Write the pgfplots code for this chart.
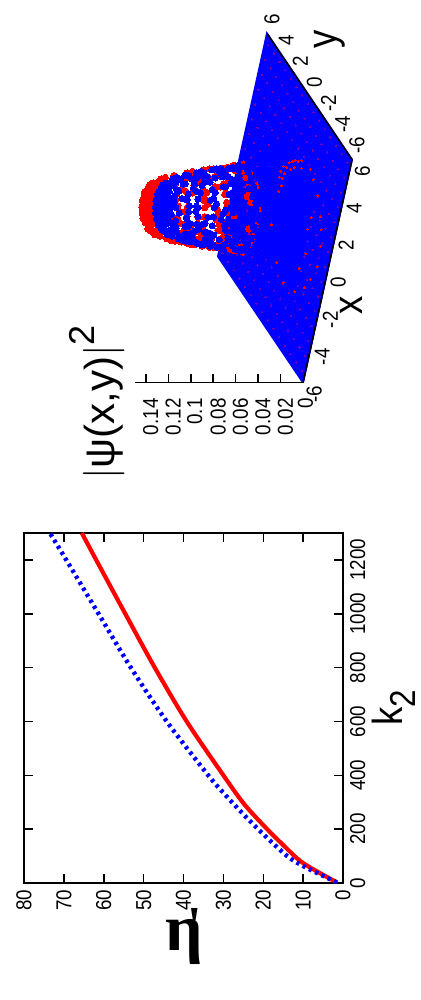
\documentclass[border=0pt]{standalone}
\usepackage{fontspec}
\setmainfont[FakeStretch=0.87]{Liberation Sans}
\newfontfamily\wideface{Liberation Sans}
\newfontfamily\etafont{Liberation Serif}
\usepackage{graphicx}
\usepackage{pgfplots}
\pgfplotsset{compat=1.18}
\definecolor{gpred}{RGB}{255,0,0}
\definecolor{gpblue}{RGB}{0,0,255}
\definecolor{gpdot}{RGB}{120,0,170}
\pgfplotsset{
  /pgf/number format/assume math mode=true,
  /pgf/number format/set thousands separator={},
  tick label style={font=\fontsize{10.8}{12}\selectfont},
}
\newcommand{\biglabel}{\fontsize{21}{23}\selectfont}
\begin{document}
\rotatebox{90}{%
\begin{tikzpicture}
\path[use as bounding box] (0,0) rectangle (500pt,210.5pt);
% left panel
\begin{axis}[
  at={(58.5pt,39pt)}, anchor=south west,
  scale only axis, width=175pt, height=159.5pt,
  xmin=0, xmax=1300, ymin=0, ymax=80,
  xtick={0,200,...,1200}, ytick={0,10,...,80},
  tick align=inside, major tick length=4.5pt,
  axis line style={line width=0.85pt},
  tick style={line width=0.75pt, black},
  xlabel={k\raisebox{-6.5pt}{\fontsize{18}{20}\selectfont 2}},
  every axis x label/.style={at={(axis description cs:0.5,0)}, anchor=base, yshift=-29.5pt, font=\biglabel},
  ylabel={{\etafont\bfseries η\kern-7.6pt\raisebox{4pt}{\fontsize{26}{28}\selectfont '}}},
  every axis y label/.style={at={(axis description cs:-0.154,0.5)}, anchor=center, rotate=-90, font=\fontsize{33}{35}\selectfont},
  clip=true,
]
\addplot[gpred, line width=2.1pt, smooth] coordinates {
  (2,1.5) (74,10) (141,15) (215,20) (297,25) (400,30)
  (600,39.2) (800,47.2) (1000,54.6) (1200,61.9) (1300,65.5)
};
\addplot[gpblue, line width=2.2pt, dash pattern=on 1.6pt off 1.9pt, smooth] coordinates {
  (2,1.5) (59,9.5) (100,14) (186,20.3) (260,25.3) (335,30) (400,33.8)
  (600,44.2) (800,53.2) (1000,61.3) (1200,69.4) (1300,73.5)
};
\end{axis}
% right panel
\begin{axis}[
  at={(396pt,68pt)}, anchor=origin,
  x={(9.29pt,-2.04pt)}, y={(5.25pt,3.54pt)}, z={(0pt,561pt)},
  xmin=-6, xmax=6, ymin=-6, ymax=6, zmin=0, zmax=0.15,
  axis x line*=left, axis y line=none, axis z line*=left,
  xtick={-6,-4,...,6}, ztick={0,0.02,...,0.14},
  x tick style={draw=none}, z tick style={draw=none},
  xticklabel style={xshift=-1.5pt, yshift=2.5pt},
  axis line style={line width=0.75pt},
  scaled z ticks=false,
  zticklabel style={/pgf/number format/fixed, /pgf/number format/precision=2, xshift=-4.5pt},
  xlabel={x}, zlabel={{\wideface$|$ψ(x,y)$|$\raisebox{10pt}{\fontsize{18}{20}\selectfont 2}}},
  every axis x label/.style={at={(axis cs:0,-6,0)}, anchor=center, xshift=-17pt, yshift=-12pt, font=\biglabel},
  every axis z label/.style={at={(axis cs:-6,-6,0.15)}, anchor=center, xshift=-10pt, yshift=19pt, font=\biglabel},
  clip=false,
]
\addplot3[fill=gpblue, draw=gpblue, line width=1pt] coordinates {
  (-6,-6,0) (6,-6,0) (6,6,0) (-6,6,0) (-6,-6,0)
};
% faint lattice on the flat part
\addplot3[only marks, color=gpdot, mark=*, mark size=0.3pt, mark options={draw=gpdot, fill=gpdot, line width=0pt}] coordinates {
(-5.6,-5.6,0)(-4.8,-5.6,0)(-4,-5.6,0)(-3.2,-5.6,0)(-2.4,-5.6,0)(-1.6,-5.6,0)(-.8,-5.6,0)(0,-5.6,0)(.8,-5.6,0)(1.6,-5.6,0)(2.4,-5.6,0)(3.2,-5.6,0)(4,-5.6,0)(4.8,-5.6,0)(5.6,-5.6,0)
(-5.6,-4.8,0)(-4.8,-4.8,0)(-4,-4.8,0)(-3.2,-4.8,0)(-2.4,-4.8,0)(-1.6,-4.8,0)(-.8,-4.8,0)(0,-4.8,0)(.8,-4.8,0)(1.6,-4.8,0)(2.4,-4.8,0)(3.2,-4.8,0)(4,-4.8,0)(4.8,-4.8,0)(5.6,-4.8,0)
(-5.6,-4,0)(-4.8,-4,0)(-4,-4,0)(-3.2,-4,0)(-2.4,-4,0)(-1.6,-4,0)(-.8,-4,0)(0,-4,0)(.8,-4,0)(1.6,-4,0)(2.4,-4,0)(3.2,-4,0)(4,-4,0)(4.8,-4,0)(5.6,-4,0)
(-5.6,-3.2,0)(-4.8,-3.2,0)(-4,-3.2,0)(-3.2,-3.2,0)(-2.4,-3.2,0)(-1.6,-3.2,0)(-.8,-3.2,0)(0,-3.2,0)(.8,-3.2,0)(1.6,-3.2,0)(2.4,-3.2,0)(3.2,-3.2,0)(4,-3.2,0)(4.8,-3.2,0)(5.6,-3.2,0)
(-5.6,-2.4,0)(-4.8,-2.4,0)(-4,-2.4,0)(-3.2,-2.4,0)(3.2,-2.4,0)(4,-2.4,0)(4.8,-2.4,0)(5.6,-2.4,0)
(-5.6,-1.6,0)(-4.8,-1.6,0)(-4,-1.6,0)(-3.2,-1.6,0)(3.2,-1.6,0)(4,-1.6,0)(4.8,-1.6,0)(5.6,-1.6,0)
(-5.6,-.8,0)(-4.8,-.8,0)(-4,-.8,0)(-3.2,-.8,0)(3.2,-.8,0)(4,-.8,0)(4.8,-.8,0)(5.6,-.8,0)
(-5.6,0,0)(-4.8,0,0)(-4,0,0)(-3.2,0,0)(3.2,0,0)(4,0,0)(4.8,0,0)(5.6,0,0)
(-5.6,.8,0)(-4.8,.8,0)(-4,.8,0)(-3.2,.8,0)(3.2,.8,0)(4,.8,0)(4.8,.8,0)(5.6,.8,0)
(-5.6,1.6,0)(-4.8,1.6,0)(-4,1.6,0)(-3.2,1.6,0)(3.2,1.6,0)(4,1.6,0)(4.8,1.6,0)(5.6,1.6,0)
(-5.6,2.4,0)(-4.8,2.4,0)(-4,2.4,0)(-3.2,2.4,0)(-2.4,2.4,0)(2.4,2.4,0)(3.2,2.4,0)(4,2.4,0)(4.8,2.4,0)(5.6,2.4,0)
(-5.6,3.2,0)(-4.8,3.2,0)(-4,3.2,0)(-3.2,3.2,0)(-2.4,3.2,0)(-1.6,3.2,0)(-.8,3.2,0)(0,3.2,0)(.8,3.2,0)(1.6,3.2,0)(2.4,3.2,0)(3.2,3.2,0)(4,3.2,0)(4.8,3.2,0)(5.6,3.2,0)
(-5.6,4,0)(-4.8,4,0)(-4,4,0)(-3.2,4,0)(-2.4,4,0)(-1.6,4,0)(-.8,4,0)(0,4,0)(.8,4,0)(1.6,4,0)(2.4,4,0)(3.2,4,0)(4,4,0)(4.8,4,0)(5.6,4,0)
(-5.6,4.8,0)(-4.8,4.8,0)(-4,4.8,0)(-3.2,4.8,0)(-2.4,4.8,0)(-1.6,4.8,0)(-.8,4.8,0)(0,4.8,0)(.8,4.8,0)(1.6,4.8,0)(2.4,4.8,0)(3.2,4.8,0)(4,4.8,0)(4.8,4.8,0)(5.6,4.8,0)
(-5.6,5.6,0)(-4.8,5.6,0)(-4,5.6,0)(-3.2,5.6,0)(-2.4,5.6,0)(-1.6,5.6,0)(-.8,5.6,0)(0,5.6,0)(.8,5.6,0)(1.6,5.6,0)(2.4,5.6,0)(3.2,5.6,0)(4,5.6,0)(4.8,5.6,0)(5.6,5.6,0)
};
% red series
\addplot3[only marks, color=gpred, mark=*, mark size=1.6pt, mark options={draw=gpred, fill=gpred, line width=0pt}] coordinates {
(-.4,-2,.0396)(0,-2,.0449)(.4,-2,.0396)
(-1.2,-1.6,.0449)(-.8,-1.6,.0731)(-.4,-1.6,.0891)(0,-1.6,.0939)(.4,-1.6,.0891)(.8,-1.6,.0731)(1.2,-1.6,.0449)
(-1.6,-1.2,.0449)(-1.2,-1.2,.084)(-.8,-1.2,.106)(-.4,-1.2,.1144)(0,-1.2,.1164)(.4,-1.2,.1144)(.8,-1.2,.106)(1.2,-1.2,.084)(1.6,-1.2,.0449)
(-1.6,-.8,.0731)(-1.2,-.8,.106)(-.8,-.8,.1181)(-.4,-.8,.121)(0,-.8,.1215)(.4,-.8,.121)(.8,-.8,.1181)(1.2,-.8,.106)(1.6,-.8,.0731)
(-2,-.4,.0396)(-1.6,-.4,.0891)(-1.2,-.4,.1144)(-.8,-.4,.121)(-.4,-.4,.122)(0,-.4,.122)(.4,-.4,.122)(.8,-.4,.121)(1.2,-.4,.1144)(1.6,-.4,.0891)(2,-.4,.0396)
(-2,0,.0449)(-1.6,0,.0939)(-1.2,0,.1164)(-.8,0,.1215)(-.4,0,.122)(0,0,.122)(.4,0,.122)(.8,0,.1215)(1.2,0,.1164)(1.6,0,.0939)(2,0,.0449)
(-2,.4,.0396)(-1.6,.4,.0891)(-1.2,.4,.1144)(-.8,.4,.121)(-.4,.4,.122)(0,.4,.122)(.4,.4,.122)(.8,.4,.121)(1.2,.4,.1144)(1.6,.4,.0891)(2,.4,.0396)
(-1.6,.8,.0731)(-1.2,.8,.106)(-.8,.8,.1181)(-.4,.8,.121)(0,.8,.1215)(.4,.8,.121)(.8,.8,.1181)(1.2,.8,.106)(1.6,.8,.0731)
(-1.6,1.2,.0449)(-1.2,1.2,.084)(-.8,1.2,.106)(-.4,1.2,.1144)(0,1.2,.1164)(.4,1.2,.1144)(.8,1.2,.106)(1.2,1.2,.084)(1.6,1.2,.0449)
(-1.2,1.6,.0449)(-.8,1.6,.0731)(-.4,1.6,.0891)(0,1.6,.0939)(.4,1.6,.0891)(.8,1.6,.0731)(1.2,1.6,.0449)
(-.4,2,.0396)(0,2,.0449)(.4,2,.0396)
(-1.8,.6,.0588)(-1.4,.6,.1004)(-1,.6,.1173)(-.6,.6,.1213)(-.2,.6,.122)(.2,.6,.122)(.6,.6,.1213)(1,.6,.1173)(1.4,.6,.1004)(1.8,.6,.0588)
(-1.8,1,.0371)(-1.4,1,.0814)(-1,1,.1077)(-.6,1,.1173)(-.2,1,.1199)(.2,1,.1199)(.6,1,.1173)(1,1,.1077)(1.4,1,.0814)(1.8,1,.0371)
(-1.4,1.4,.0476)(-1,1.4,.0814)(-.6,1.4,.1004)(-.2,1.4,.1077)(.2,1.4,.1077)(.6,1.4,.1004)(1,1.4,.0814)(1.4,1.4,.0476)
(-1,1.8,.0371)(-.6,1.8,.0588)(-.2,1.8,.0703)(.2,1.8,.0703)(.6,1.8,.0588)(1,1.8,.0371)
(-1.8,-.2,.0703)(-1.4,-.2,.1077)(-1,-.2,.1199)(1,-.2,.1199)(1.4,-.2,.1077)(1.8,-.2,.0703)
(-1.8,-.6,.0588)(-1.4,-.6,.1004)(-1,-.6,.1173)(1,-.6,.1173)(1.4,-.6,.1004)(1.8,-.6,.0588)
(-1.8,-1,.0371)(-1.4,-1,.0814)(-1,-1,.1077)(-.6,-1,.1173)(-.2,-1,.1199)(.2,-1,.1199)(.6,-1,.1173)(1,-1,.1077)(1.4,-1,.0814)(1.8,-1,.0371)
(-1.4,-1.4,.0476)(-1,-1.4,.0814)(-.6,-1.4,.1004)(-.2,-1.4,.1077)(.2,-1.4,.1077)(.6,-1.4,.1004)(1,-1.4,.0814)(1.4,-1.4,.0476)
(-1,-1.8,.0371)(-.6,-1.8,.0588)(-.2,-1.8,.0703)(.2,-1.8,.0703)(.6,-1.8,.0588)(1,-1.8,.0371)
(-1.5,-.4,.0983)(-1.34,-.78,.0983)(-1.1,-1.1,.0983)(-.78,-1.34,.0983)(-.4,-1.5,.0983)(0,-1.55,.0983)(.4,-1.5,.0983)(.78,-1.34,.0983)(1.1,-1.1,.0983)(1.34,-.78,.0983)(1.5,-.4,.0983)
(-1.64,-.44,.0838)(-1.47,-.85,.0838)(-1.2,-1.2,.0838)(-.85,-1.47,.0838)(-.44,-1.64,.0838)(0,-1.7,.0838)(.44,-1.64,.0838)(.85,-1.47,.0838)(1.2,-1.2,.0838)(1.47,-.85,.0838)(1.64,-.44,.0838)
(-1.83,-.24,.0654)(-1.71,-.71,.0654)(-1.47,-1.13,.0654)(-1.13,-1.47,.0654)(-.71,-1.71,.0654)(-.24,-1.83,.0654)(.24,-1.83,.0654)(.71,-1.71,.0654)(1.13,-1.47,.0654)(1.47,-1.13,.0654)(1.71,-.71,.0654)(1.83,-.24,.0654)
(-1.93,-.52,.045)(-1.73,-1,.045)(-1.41,-1.41,.045)(1.41,-1.41,.045)(1.73,-1,.045)(1.93,-.52,.045)
(-1.83,.24,.0654)(1.83,.24,.0654)(-1.71,.71,.0654)(1.71,.71,.0654)(-1.47,1.13,.0654)(1.47,1.13,.0654)
(-1.93,.52,.045)(1.93,.52,.045)(-1.73,1,.045)(1.73,1,.045)
};
% blue series
\addplot3[only marks, color=gpblue, mark=*, mark size=1.55pt, mark options={draw=gpblue, fill=gpblue, line width=0pt}] coordinates {
(-.4,-2.4,.0043)(0,-2.4,.0055)(.4,-2.4,.0043)
(-1.2,-2,.0089)(-.8,-2,.023)(-.4,-2,.0357)(0,-2,.0405)(.4,-2,.0357)(.8,-2,.023)(1.2,-2,.0089)
(-1.6,-1.6,.0135)(-1.2,-1.6,.0405)(-.8,-1.6,.0659)(-.4,-1.6,.0803)(0,-1.6,.0846)(.4,-1.6,.0803)(.8,-1.6,.0659)(1.2,-1.6,.0405)(1.6,-1.6,.0135)
(-2,-1.2,.0089)(-1.6,-1.2,.0405)(-1.2,-1.2,.0757)(-.8,-1.2,.0956)(-.4,-1.2,.1032)(0,-1.2,.105)(.4,-1.2,.1032)(.8,-1.2,.0956)(1.2,-1.2,.0757)(1.6,-1.2,.0405)(2,-1.2,.0089)
(-2,-.8,.023)(-1.6,-.8,.0659)(-1.2,-.8,.0956)(-.8,-.8,.1065)(-.4,-.8,.1091)(0,-.8,.1096)(.4,-.8,.1091)(.8,-.8,.1065)(1.2,-.8,.0956)(1.6,-.8,.0659)(2,-.8,.023)
(-2.4,-.4,.0043)(-2,-.4,.0357)(-1.6,-.4,.0803)(-1.2,-.4,.1032)(-.8,-.4,.1091)(-.4,-.4,.11)(0,-.4,.11)(.4,-.4,.11)(.8,-.4,.1091)(1.2,-.4,.1032)(1.6,-.4,.0803)(2,-.4,.0357)(2.4,-.4,.0043)
(-2.4,0,.0055)(-2,0,.0405)(-1.6,0,.0846)(-1.2,0,.105)(-.8,0,.1096)(-.4,0,.11)(0,0,.11)(.4,0,.11)(.8,0,.1096)(1.2,0,.105)(1.6,0,.0846)(2,0,.0405)(2.4,0,.0055)
(-2.4,.4,.0043)(-2,.4,.0357)(-1.6,.4,.0803)(-1.2,.4,.1032)(-.8,.4,.1091)(-.4,.4,.11)(0,.4,.11)(.4,.4,.11)(.8,.4,.1091)(1.2,.4,.1032)(1.6,.4,.0803)(2,.4,.0357)(2.4,.4,.0043)
(-2,.8,.023)(-1.6,.8,.0659)(-1.2,.8,.0956)(-.8,.8,.1065)(-.4,.8,.1091)(0,.8,.1096)(.4,.8,.1091)(.8,.8,.1065)(1.2,.8,.0956)(1.6,.8,.0659)(2,.8,.023)
(-2,1.2,.0089)(-1.6,1.2,.0405)(-1.2,1.2,.0757)(-.8,1.2,.0956)(-.4,1.2,.1032)(0,1.2,.105)(.4,1.2,.1032)(.8,1.2,.0956)(1.2,1.2,.0757)(1.6,1.2,.0405)(2,1.2,.0089)
(-1.6,1.6,.0135)(-1.2,1.6,.0405)(-.8,1.6,.0659)(-.4,1.6,.0803)(0,1.6,.0846)(.4,1.6,.0803)(.8,1.6,.0659)(1.2,1.6,.0405)(1.6,1.6,.0135)
(-1.2,2,.0089)(-.8,2,.023)(-.4,2,.0357)(0,2,.0405)(.4,2,.0357)(.8,2,.023)(1.2,2,.0089)
(-.4,2.4,.0043)(0,2.4,.0055)(.4,2.4,.0043)
(-1,2.2,.0049)(-.6,2.2,.0123)(-.2,2.2,.0178)(.2,2.2,.0178)(.6,2.2,.0123)(1,2.2,.0049)
(-1.4,1.8,.0123)(-1,1.8,.0334)(-.6,1.8,.0531)(-.2,1.8,.0634)(.2,1.8,.0634)(.6,1.8,.0531)(1,1.8,.0334)(1.4,1.8,.0123)
(-1.8,1.4,.0123)(-1.4,1.4,.0429)(-1,1.4,.0734)(-.6,1.4,.0905)(-.2,1.4,.0971)(.2,1.4,.0971)(.6,1.4,.0905)(1,1.4,.0734)(1.4,1.4,.0429)(1.8,1.4,.0123)
(-2.2,1,.0049)(-1.8,1,.0334)(-1.4,1,.0734)(-1,1,.0971)(-.6,1,.1058)(-.2,1,.1081)(.2,1,.1081)(.6,1,.1058)(1,1,.0971)(1.4,1,.0734)(1.8,1,.0334)(2.2,1,.0049)
(-2.2,.6,.0123)(-1.8,.6,.0531)(-1.4,.6,.0905)(-1,.6,.1058)(-.6,.6,.1094)(-.2,.6,.11)(.2,.6,.11)(.6,.6,.1094)(1,.6,.1058)(1.4,.6,.0905)(1.8,.6,.0531)(2.2,.6,.0123)
(-2.2,.2,.0178)(-1.8,.2,.0634)(-1.4,.2,.0971)(-1,.2,.1081)(-.6,.2,.11)(-.2,.2,.11)(.2,.2,.11)(.6,.2,.11)(1,.2,.1081)(1.4,.2,.0971)(1.8,.2,.0634)(2.2,.2,.0178)
(-2.2,-.2,.0178)(-1.8,-.2,.0634)(-1.4,-.2,.0971)(-1,-.2,.1081)(-.6,-.2,.11)(-.2,-.2,.11)(.2,-.2,.11)(.6,-.2,.11)(1,-.2,.1081)(1.4,-.2,.0971)(1.8,-.2,.0634)(2.2,-.2,.0178)
(-2.2,-.6,.0123)(-1.8,-.6,.0531)(-1.4,-.6,.0905)(-1,-.6,.1058)(-.6,-.6,.1094)(-.2,-.6,.11)(.2,-.6,.11)(.6,-.6,.1094)(1,-.6,.1058)(1.4,-.6,.0905)(1.8,-.6,.0531)(2.2,-.6,.0123)
(-2.2,-1,.0049)(-1.8,-1,.0334)(-1.4,-1,.0734)(-1,-1,.0971)(-.6,-1,.1058)(-.2,-1,.1081)(.2,-1,.1081)(.6,-1,.1058)(1,-1,.0971)(1.4,-1,.0734)(1.8,-1,.0334)(2.2,-1,.0049)
(-1.8,-1.4,.0123)(-1.4,-1.4,.0429)(-1,-1.4,.0734)(-.6,-1.4,.0905)(-.2,-1.4,.0971)(.2,-1.4,.0971)(.6,-1.4,.0905)(1,-1.4,.0734)(1.4,-1.4,.0429)(1.8,-1.4,.0123)
(-1.4,-1.8,.0123)(-1,-1.8,.0334)(-.6,-1.8,.0531)(-.2,-1.8,.0634)(.2,-1.8,.0634)(.6,-1.8,.0531)(1,-1.8,.0334)(1.4,-1.8,.0123)
(-1.5,-.4,.0886)(-1.34,-.78,.0886)(-1.1,-1.1,.0886)(-.78,-1.34,.0886)(-.4,-1.5,.0886)(0,-1.55,.0886)(.4,-1.5,.0886)(.78,-1.34,.0886)(1.1,-1.1,.0886)(1.34,-.78,.0886)(1.5,-.4,.0886)
(-1.55,0,.0886)(1.55,0,.0886)(-1.5,.4,.0886)(1.5,.4,.0886)(-1.34,.78,.0886)(1.34,.78,.0886)
(-1.64,-.44,.0755)(-1.47,-.85,.0755)(-1.2,-1.2,.0755)(-.85,-1.47,.0755)(-.44,-1.64,.0755)(0,-1.7,.0755)(.44,-1.64,.0755)(.85,-1.47,.0755)(1.2,-1.2,.0755)(1.47,-.85,.0755)(1.64,-.44,.0755)
(-1.7,0,.0755)(1.7,0,.0755)(-1.64,.44,.0755)(1.64,.44,.0755)(-1.47,.85,.0755)(1.47,.85,.0755)
(-1.83,-.24,.0589)(-1.71,-.71,.0589)(-1.47,-1.13,.0589)(-1.13,-1.47,.0589)(-.71,-1.71,.0589)(-.24,-1.83,.0589)(.24,-1.83,.0589)(.71,-1.71,.0589)(1.13,-1.47,.0589)(1.47,-1.13,.0589)(1.71,-.71,.0589)(1.83,-.24,.0589)
(-1.83,.24,.0589)(1.83,.24,.0589)(-1.71,.71,.0589)(1.71,.71,.0589)(-1.47,1.13,.0589)(1.47,1.13,.0589)
(-1.93,-.52,.0405)(-1.73,-1,.0405)(-1.41,-1.41,.0405)(-1,-1.73,.0405)(-.52,-1.93,.0405)(.52,-1.93,.0405)(1,-1.73,.0405)(1.41,-1.41,.0405)(1.73,-1,.0405)(1.93,-.52,.0405)
(-1.93,.52,.0405)(1.93,.52,.0405)(-1.73,1,.0405)(1.73,1,.0405)
(-2.13,-.28,.0236)(-1.99,-.82,.0236)(1.99,-.82,.0236)(2.13,-.28,.0236)(-2.13,.28,.0236)(2.13,.28,.0236)(-1.99,.82,.0236)(1.99,.82,.0236)(-1.7,1.31,.0236)(1.7,1.31,.0236)
};
% red points showing through the flat part
\addplot3[only marks, color=gpred, mark=*, mark size=0.5pt, mark options={draw=gpred, fill=gpred, line width=0pt}] coordinates {
(.9,1.35,0)(1.25,1.3,0)(1.6,1.15,0)(1.35,.85,0)(1.75,.75,0)(2.1,.6,0)(1.9,.3,0)(2.35,.25,0)(2.55,.05,0)(2.2,-.05,0)
(.3,1.05,0)(.7,.9,0)(1,1,0)(2.7,-.35,0)(2.95,-.7,0)(2.6,-.8,0)
(-1.5,1.05,0)(-2.7,-.4,0)
(3.1,-1.8,0)(2.85,-2.35,0)(2.5,-3.2,0)(1.75,-3.95,0)(1.3,-4.35,0)(.6,-4.7,0)
(-.45,-4.8,0)(-1.35,-4.4,0)(-2.1,-3.9,0)(-2.8,-3,0)
(-3.15,-1.55,0)(.5,-2.9,0)(-.6,-3.3,0)(1.2,-3,0)(-1.6,-2.9,0)
};
\addplot3[black, line width=0.75pt] coordinates {(-6,-6,0) (6,-6,0) (6,6,0)};
\addplot3[black, line width=0.75pt] coordinates {(-6,-6,0) (-6,-6,0.15)};
% z ticks
\draw[line width=0.75pt] (axis cs:-6,-6,0.02) -- ++(4pt,0pt);
\draw[line width=0.75pt] (axis cs:-6,-6,0.04) -- ++(4pt,0pt);
\draw[line width=0.75pt] (axis cs:-6,-6,0.06) -- ++(4pt,0pt);
\draw[line width=0.75pt] (axis cs:-6,-6,0.08) -- ++(4pt,0pt);
\draw[line width=0.75pt] (axis cs:-6,-6,0.10) -- ++(4pt,0pt);
\draw[line width=0.75pt] (axis cs:-6,-6,0.12) -- ++(4pt,0pt);
\draw[line width=0.75pt] (axis cs:-6,-6,0.14) -- ++(4pt,0pt);
% y tick labels along the edge at x=6
\node[font=\fontsize{10.8}{12}\selectfont, xshift=7pt, yshift=-2.5pt] at (axis cs:6,-6,0) {-6};
\node[font=\fontsize{10.8}{12}\selectfont, xshift=7pt, yshift=-2.5pt] at (axis cs:6,-4,0) {-4};
\node[font=\fontsize{10.8}{12}\selectfont, xshift=7pt, yshift=-2.5pt] at (axis cs:6,-2,0) {-2};
\node[font=\fontsize{10.8}{12}\selectfont, xshift=7pt, yshift=-2.5pt] at (axis cs:6,0,0) {0};
\node[font=\fontsize{10.8}{12}\selectfont, xshift=7pt, yshift=-2.5pt] at (axis cs:6,2,0) {2};
\node[font=\fontsize{10.8}{12}\selectfont, xshift=7pt, yshift=-2.5pt] at (axis cs:6,4,0) {4};
\node[font=\fontsize{10.8}{12}\selectfont, xshift=7pt, yshift=-2.5pt] at (axis cs:6,6,0) {6};
\node[font=\biglabel, xshift=28.5pt, yshift=-10pt] at (axis cs:6,0,0) {y};
\end{axis}
\end{tikzpicture}%
}
\end{document}
